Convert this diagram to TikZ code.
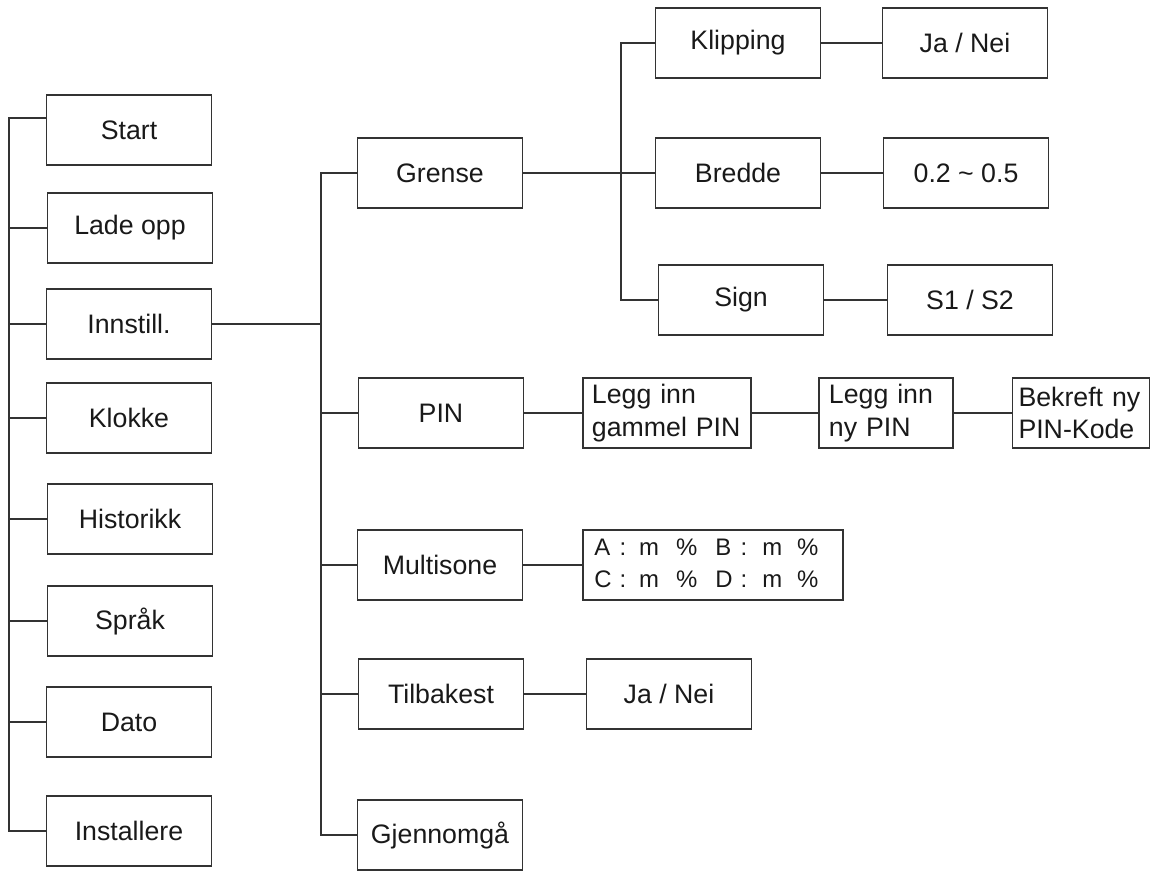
\documentclass[tikz,border=0pt]{standalone}
\usepackage{fontspec}
\setmainfont{Liberation Sans}
\usetikzlibrary{calc}

\begin{document}
\begin{tikzpicture}[x=0.025cm, y=-0.025cm,
    menu/.style={rectangle, draw=black!80, line width=1.1pt, minimum width=4.125cm, minimum height=1.75cm, inner sep=0pt, font=\fontsize{19}{23}\selectfont, text=black!90},
    twoline/.style={rectangle, draw=black!80, line width=1.1pt, minimum height=1.75cm, inner ysep=0pt, align=left, font=\fontsize{19}{23}\selectfont, text=black!90},
    ln/.style={draw=black!80, line width=1.1pt}
]
\useasboundingbox (0,0) rectangle (1155,871);

% main menu
\node[menu] (start) at (129,130) {Start};
\node[menu] (lade) at (130,228) {Lade opp};
\node[menu] (innst) at (129,324) {Innstill.};
\node[menu] (klokke) at (129,418) {Klokke};
\node[menu] (hist) at (130,519) {Historikk};
\node[menu] (sprak) at (130,621) {Språk};
\node[menu] (dato) at (129,722) {Dato};
\node[menu] (inst) at (129,831) {Installere};

% settings menu
\node[menu] (grense) at (440,173) {Grense};
\node[menu] (pin) at (441,413) {PIN};
\node[menu] (msone) at (440,565) {Multisone};
\node[menu] (tilb) at (441,694) {Tilbakest};
\node[menu] (gjen) at (440,835) {Gjennomgå};

% grense
\node[menu] (klipp) at (738,43) {Klipping};
\node[menu] (bredde) at (738,173) {Bredde};
\node[menu] (sign) at (741,300) {Sign};
\node[menu] (janei) at (965,43) {Ja / Nei};
\node[menu] (range) at (966,173) {0.2 \textasciitilde{} 0.5};
\node[menu] (sval) at (970,300) {S1 / S2};

% pin
\node[twoline, text width=3.75cm, inner xsep=0.225cm] (gammel) at (667,413) {Legg inn\\gammel PIN};
\node[twoline, text width=2.85cm, inner xsep=0.25cm] (nypin) at (886,413) {Legg inn\\ny PIN};
\node[twoline, text width=3.125cm, inner xsep=0.15cm] (bekreft) at (1081,413) {Bekreft ny\\PIN-Kode};

% multisone + tilbakestill
\node[menu, minimum width=6.5cm, font=\fontsize{17}{23}\selectfont] (zones) at (713,565) {%
\begin{tabular}{@{}l@{\hspace{0.2cm}}l@{\hspace{0.325cm}}l@{\hspace{0.425cm}}l@{\hspace{0.45cm}}l@{\hspace{0.2cm}}l@{\hspace{0.375cm}}l@{\hspace{0.375cm}}l@{\hspace{0.33cm}}}
A & : & m & \% & B & : & m & \%\\
C & : & m & \% & D & : & m & \%
\end{tabular}};
\node[menu] (janei2) at (669,694) {Ja / Nei};

% main menu links
\coordinate (ta) at (9,118);
\draw[ln] ($(start.west)+(0,-12)$) -| (ta |- inst.west) -- (inst.west);
\draw[ln] (lade.west) -- (lade.west -| ta);
\draw[ln] (innst.west) -- (innst.west -| ta);
\draw[ln] (klokke.west) -- (klokke.west -| ta);
\draw[ln] (hist.west) -- (hist.west -| ta);
\draw[ln] (sprak.west) -- (sprak.west -| ta);
\draw[ln] (dato.west) -- (dato.west -| ta);

% settings links
\coordinate (tb) at (321,0);
\draw[ln] (innst.east) -- (innst.east -| tb);
\draw[ln] (grense.west) -| (tb |- gjen.west) -- (gjen.west);
\draw[ln] (pin.west) -- (pin.west -| tb);
\draw[ln] (msone.west) -- (msone.west -| tb);
\draw[ln] (tilb.west) -- (tilb.west -| tb);

% grense links
\coordinate (tc) at (621,0);
\draw[ln] (grense.east) -- (bredde.west);
\draw[ln] (klipp.west) -| (tc |- sign.west) -- (sign.west);
\draw[ln] (klipp.east) -- (janei.west);
\draw[ln] (bredde.east) -- (range.west);
\draw[ln] (sign.east) -- (sval.west);

% pin links
\draw[ln] (pin.east) -- (gammel.west);
\draw[ln] (gammel.east) -- (nypin.west);
\draw[ln] (nypin.east) -- (bekreft.west);

% other links
\draw[ln] (msone.east) -- (zones.west);
\draw[ln] (tilb.east) -- (janei2.west);

\end{tikzpicture}
\end{document}
